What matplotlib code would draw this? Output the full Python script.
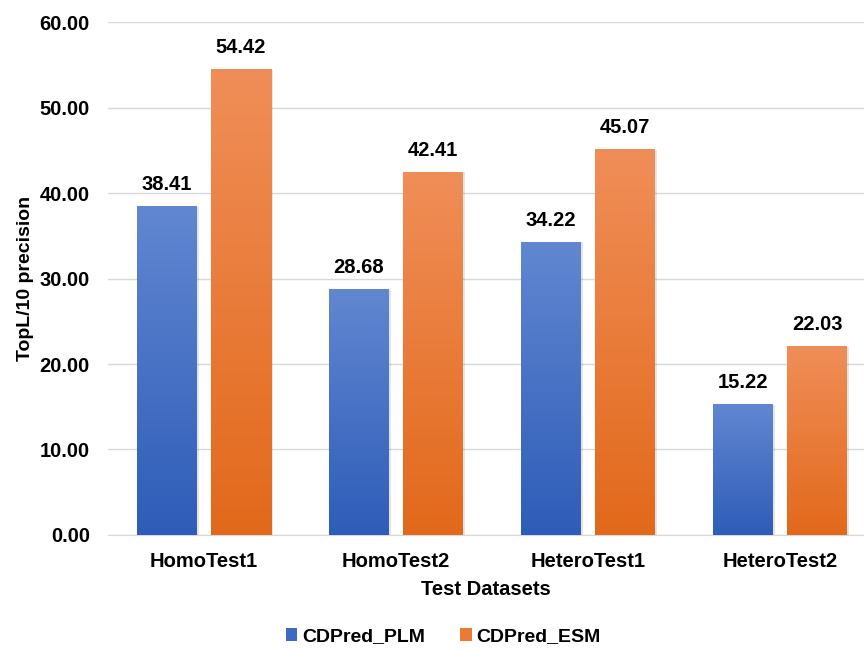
import numpy as np
import matplotlib.pyplot as plt
from matplotlib.colors import LinearSegmentedColormap
from matplotlib.patches import Patch

plt.rcParams['font.family'] = ['Liberation Sans', 'DejaVu Sans']
plt.rcParams['font.weight'] = 'bold'

datasets = ['HomoTest1', 'HomoTest2', 'HeteroTest1', 'HeteroTest2']
plm = [38.41, 28.68, 34.22, 15.22]
esm = [54.42, 42.41, 45.07, 22.03]

blue_cmap = LinearSegmentedColormap.from_list('blue_grad', ['#2e5cb8', '#6187d1'])
orange_cmap = LinearSegmentedColormap.from_list('orange_grad', ['#e2691b', '#f08e58'])

fig = plt.figure(figsize=(8.64, 6.5), dpi=100)
ax = fig.add_axes([0.125, 0.177, 0.875, 0.789])

x = np.arange(len(datasets))
w = 0.3125
off = 0.193
fs = 14.5

grad = np.linspace(0, 1, 256).reshape(-1, 1)

def gradient_bars(xpos, vals, cmap):
    # faint shadow behind each bar
    ax.bar(xpos + 0.006, vals, w + 0.012, color='#000000', alpha=0.10, zorder=2, linewidth=0)
    bars = ax.bar(xpos, vals, w, color='none', zorder=3, linewidth=0)
    for b in bars:
        x0, y0 = b.get_x(), b.get_y()
        ax.imshow(grad, extent=[x0, x0 + b.get_width(), y0, y0 + b.get_height()],
                  origin='lower', cmap=cmap, aspect='auto', zorder=3)
    for xi, v in zip(xpos, vals):
        ax.annotate(f'{v:.2f}', (xi, v), xytext=(0, 16), textcoords='offset points',
                    ha='center', va='center', fontsize=fs, fontweight='bold')
    return bars

gradient_bars(x - off, plm, blue_cmap)
gradient_bars(x + off, esm, orange_cmap)

ax.set_xlim(-0.5, 3.4375)
ax.set_ylim(0, 60)
ax.set_yticks(np.arange(0, 61, 10))
ax.set_yticklabels([f'{v:.2f}' for v in np.arange(0, 61, 10)], fontsize=fs, fontweight='bold')
ax.set_xticks(x)
ax.set_xticklabels(datasets, fontsize=fs, fontweight='bold')
ax.tick_params(axis='both', length=0)
ax.tick_params(axis='x', pad=12)
ax.tick_params(axis='y', pad=13)
ax.yaxis.grid(True, color='#d9d9d9', linewidth=1)
ax.set_axisbelow(True)
for s in ['top', 'right', 'left']:
    ax.spines[s].set_visible(False)
ax.spines['bottom'].set_color('#d9d9d9')

ax.set_xlabel('Test Datasets', fontsize=fs, fontweight='bold', labelpad=7)
ax.set_ylabel('TopL/10 precision', fontsize=14, fontweight='bold')
ax.yaxis.set_label_coords(-0.098, 0.5)

handles = [Patch(facecolor='#3e6bc2', label='CDPred_PLM'),
           Patch(facecolor='#ea7a35', label='CDPred_ESM')]
fig.legend(handles=handles, loc='center', bbox_to_anchor=(0.513, 0.02), ncol=2,
           frameon=False, fontsize=14, handlelength=0.6, handleheight=0.6,
           handletextpad=0.25, columnspacing=1.8)

fig.savefig('out.png', dpi=100)
